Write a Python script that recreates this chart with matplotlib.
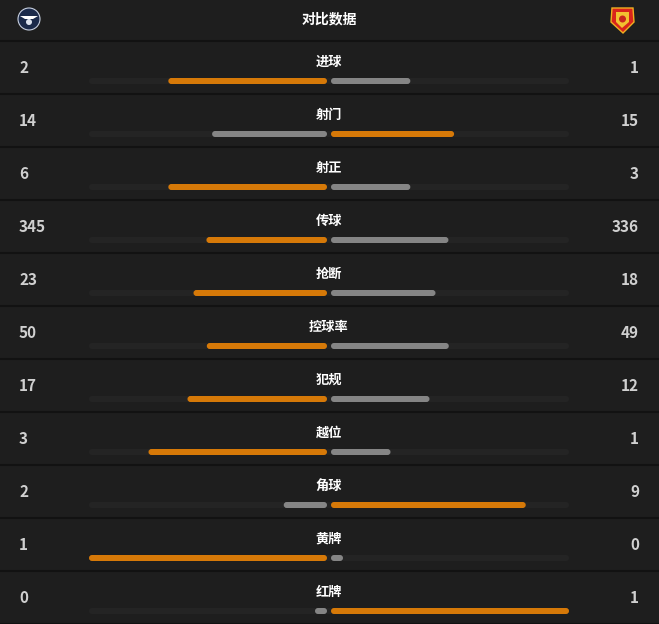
import matplotlib
matplotlib.use('Agg')
import matplotlib.pyplot as plt
from matplotlib.patches import FancyBboxPatch, Circle, Polygon

plt.rcParams['font.family'] = ['Noto Sans CJK SC', 'DejaVu Sans']

title = '对比数据'
stats = ['进球', '射门', '射正', '传球', '抢断', '控球率', '犯规', '越位', '角球', '黄牌', '红牌']
home = [2, 14, 6, 345, 23, 50, 17, 3, 2, 1, 0]
away = [1, 15, 3, 336, 18, 49, 12, 1, 9, 0, 1]

W, H = 659, 624
bg = '#1e1e1e'
orange = '#d67908'
grey = '#858585'
track = '#242424'

fig = plt.figure(figsize=(W / 100, H / 100), dpi=100, facecolor=bg)
ax = fig.add_axes([0, 0, 1, 1])
ax.set_xlim(0, W)
ax.set_ylim(H, 0)
ax.axis('off')
ax.set_facecolor(bg)

header_h = 41
row_h = 53
cx = 329
half = 238
gap = 2
bar_h = 6
min_w = 12


def rbar(x0, w, y, color):
    ax.add_patch(FancyBboxPatch((x0, y - bar_h / 2), w, bar_h,
                                boxstyle='round,pad=0,rounding_size=3',
                                fc=color, ec='none'))


# header with rough team badges
ax.text(cx, 19, title, color='white', fontsize=10, fontweight='bold',
        ha='center', va='center')
ax.add_patch(Circle((29, 19), 11, fc='#1b2a4a', ec='#c8d0e0', lw=0.8))
ax.add_patch(Polygon([[20, 16], [38, 16], [33, 19], [25, 19]], fc='white', ec='none'))
ax.add_patch(Circle((29, 22), 3, fc='#dde3ee', ec='none'))
ax.add_patch(Polygon([[612, 8], [633, 8], [634, 22], [623, 33], [611, 22]],
                     fc='#d9241b', ec='#f0b020', lw=1))
ax.add_patch(Polygon([[616, 12], [629, 12], [629, 22], [622, 28], [616, 22]],
                     fc='#f2c230', ec='none'))
ax.add_patch(Circle((622.5, 19), 3.5, fc='#c8281c', ec='none'))

ax.axhline(header_h, color='#121212', lw=1.5)

for i, name in enumerate(stats):
    top = header_h + i * row_h
    h, a = home[i], away[i]
    tot = h + a
    lw_ = max(h / tot * half, min_w)
    rw_ = max(a / tot * half, min_w)
    yb = top + 40
    rbar(cx - half - gap, 2 * half + 2 * gap, yb, track)
    rbar(cx - gap - lw_, lw_, yb, orange if h > a else grey)
    rbar(cx + gap, rw_, yb, orange if a > h else grey)
    ax.text(cx, top + 21, name, color='white', fontsize=9.5, fontweight='bold',
            ha='center', va='center')
    ax.text(19, top + 27, str(h), color='#d0d0d0', fontsize=11, fontweight='bold',
            ha='left', va='center')
    ax.text(639, top + 27, str(a), color='#d0d0d0', fontsize=11, fontweight='bold',
            ha='right', va='center')
    ax.axhline(top + row_h, color='#121212', lw=1.5)

fig.savefig('out.png', dpi=100, facecolor=bg)
